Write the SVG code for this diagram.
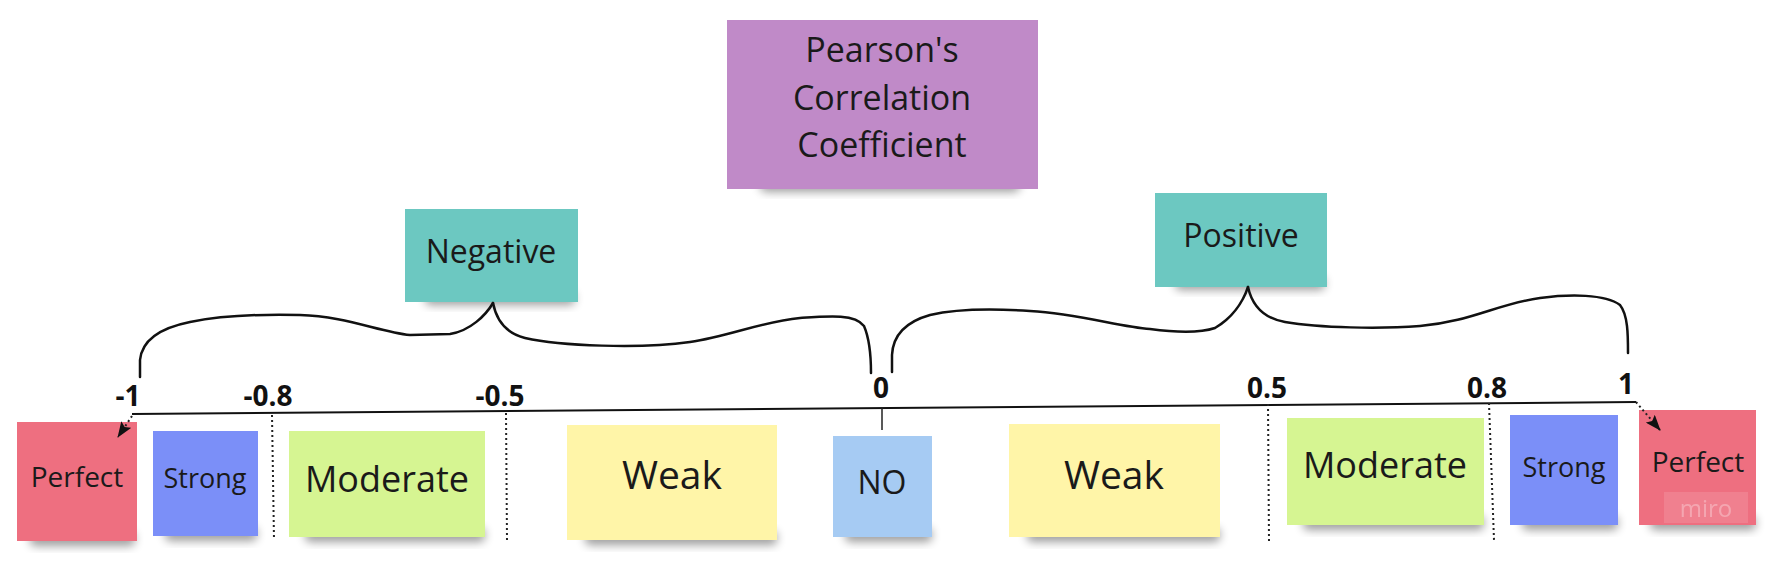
<svg xmlns="http://www.w3.org/2000/svg" width="1775" height="563" viewBox="0 0 1775 563">
<defs>
<filter id="blur" x="-20%" y="-50%" width="140%" height="200%"><feGaussianBlur stdDeviation="5"/></filter>
<marker id="arr" viewBox="0 0 16 12" refX="15" refY="6" markerWidth="16" markerHeight="12" orient="auto" markerUnits="userSpaceOnUse"><path d="M0,0 L16,6 L0,12 L3,6 Z" fill="#111"/></marker>
<style>
.t{font-family:"Open Sans","Noto Sans","Liberation Sans",sans-serif;fill:#1a1a1a;text-anchor:middle}
.tick{font-family:"Open Sans","Noto Sans","Liberation Sans",sans-serif;font-weight:bold;fill:#111;font-size:28px;text-anchor:middle}
.sh{fill:#000;opacity:0.38;filter:url(#blur)}
.red{fill:#EE6F80}.blue{fill:#7B8FF8}.green{fill:#D6F592}.yellow{fill:#FFF5A8}.lblue{fill:#A6CBF3}.teal{fill:#6CC8C1}.purple{fill:#C08AC8}
.br{fill:none;stroke:#111;stroke-width:2.5;stroke-linecap:round}
.dot{fill:none;stroke:#222;stroke-width:2;stroke-dasharray:2 3}
</style>
</defs>
<rect width="1775" height="563" fill="#fff"/>

<g id="title">
<rect class="sh" x="760" y="178" width="260" height="14" rx="6"/>
<rect class="purple" x="727" y="20" width="311" height="169"/>
<text class="t" font-size="34" x="882" y="62">Pearson's</text>
<text class="t" font-size="34" x="882" y="110">Correlation</text>
<text class="t" font-size="34" x="882" y="157">Coefficient</text>
</g>

<g id="negative">
<rect class="sh" x="425" y="292" width="150" height="13" rx="5"/>
<rect class="teal" x="405" y="209" width="173" height="93"/>
<text class="t" font-size="32" x="491" y="263">Negative</text>
</g>

<g id="positive">
<rect class="sh" x="1175" y="277" width="150" height="13" rx="5"/>
<rect class="teal" x="1155" y="193" width="172" height="94"/>
<text class="t" font-size="32" x="1241" y="247">Positive</text>
</g>

<g id="ticks">
<text class="tick" x="128" y="406">-1</text>
<text class="tick" x="268" y="406">-0.8</text>
<text class="tick" x="500" y="406">-0.5</text>
<text class="tick" x="881" y="398">0</text>
<text class="tick" x="1267" y="398">0.5</text>
<text class="tick" x="1487" y="398">0.8</text>
<text class="tick" x="1626" y="394">1</text>
</g>

<g id="perfect-neg">
<rect class="sh" x="30" y="532" width="105" height="14" rx="5"/>
<rect class="red" x="17" y="422" width="120" height="119"/>
<text class="t" font-size="28" x="77" y="487">Perfect</text>
</g>
<g id="strong-neg">
<rect class="sh" x="165" y="527" width="92" height="14" rx="5"/>
<rect class="blue" x="153" y="431" width="105" height="105"/>
<text class="t" font-size="27" x="205" y="488">Strong</text>
</g>
<g id="moderate-neg">
<rect class="sh" x="305" y="528" width="180" height="14" rx="5"/>
<rect class="green" x="289" y="431" width="196" height="106"/>
<text class="t" font-size="36" x="387" y="492">Moderate</text>
</g>
<g id="weak-neg">
<rect class="sh" x="585" y="531" width="192" height="14" rx="5"/>
<rect class="yellow" x="567" y="425" width="210" height="115"/>
<text class="t" font-size="39" x="672" y="489">Weak</text>
</g>
<g id="no">
<rect class="sh" x="845" y="528" width="87" height="14" rx="5"/>
<rect class="lblue" x="833" y="436" width="99" height="101"/>
<text class="t" font-size="32" x="882" y="494">NO</text>
</g>
<g id="weak-pos">
<rect class="sh" x="1027" y="528" width="193" height="14" rx="5"/>
<rect class="yellow" x="1009" y="424" width="211" height="113"/>
<text class="t" font-size="39" x="1114" y="489">Weak</text>
</g>
<g id="moderate-pos">
<rect class="sh" x="1303" y="516" width="181" height="14" rx="5"/>
<rect class="green" x="1287" y="418" width="197" height="107"/>
<text class="t" font-size="36" x="1385" y="478">Moderate</text>
</g>
<g id="strong-pos">
<rect class="sh" x="1522" y="516" width="96" height="14" rx="5"/>
<rect class="blue" x="1510" y="415" width="108" height="110"/>
<text class="t" font-size="27" x="1564" y="477">Strong</text>
</g>
<g id="perfect-pos">
<rect class="sh" x="1650" y="516" width="106" height="14" rx="5"/>
<rect class="red" x="1639" y="410" width="117" height="115"/>
<text class="t" font-size="28" x="1698" y="472">Perfect</text>
<rect x="1664" y="492" width="84" height="31" fill="#fff" opacity="0.12"/>
<text class="t" font-size="24" x="1706" y="517" style="fill:#fff;opacity:0.3">miro</text>
</g>

<g id="connectors">
<path class="br" d="M140,377 L140,360 C142,340 160,328 190,322 C220,316 260,314 300,315 C345,316 380,332 410,335 L450,334 C470,331 486,315 493,303"/>
<path class="br" d="M493,303 C496,318 505,333 525,338 C560,346 640,349 690,342 C730,336 760,322 800,318 C830,316 855,314 864,326 C870,340 871,360 871,373"/>
<path class="br" d="M892,372 L892,355 C893,335 905,322 930,315 C960,308 1000,309 1030,311 C1080,314 1120,327 1150,329 C1180,333 1200,333 1215,328 C1232,318 1243,302 1248,287"/>
<path class="br" d="M1248,287 C1252,305 1262,318 1285,322 C1320,328 1380,329 1420,326 C1470,322 1500,303 1540,298 C1570,294 1605,294 1620,305 C1628,315 1628,335 1628,353"/>
<path d="M132,414 L1636,402" fill="none" stroke="#111" stroke-width="2"/>
<path class="dot" d="M272,415 L274,540"/>
<path class="dot" d="M506,413 L507,541"/>
<path class="dot" d="M1268,404 L1269,542"/>
<path class="dot" d="M1489,403 L1494,540"/>
<path d="M882,408 L882,430" fill="none" stroke="#222" stroke-width="1.5"/>
<path class="dot" d="M132,416 L118,437" marker-end="url(#arr)"/>
<path class="dot" d="M1636,402 L1660,430" marker-end="url(#arr)"/>
</g>
</svg>
